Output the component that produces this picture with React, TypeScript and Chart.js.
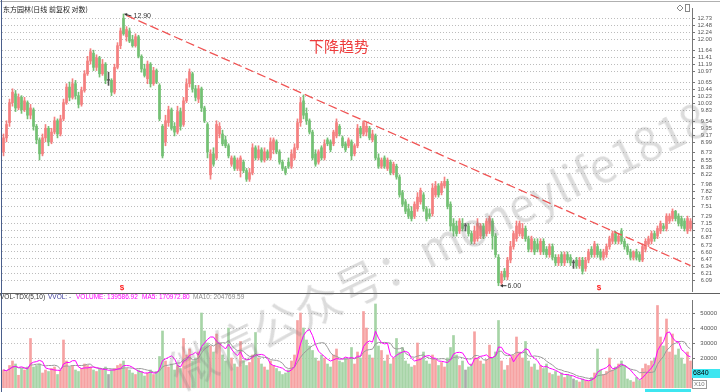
import React, { useEffect, useRef } from "react";
import { Chart, registerables } from "chart.js";
Chart.register(...registerables);

const titleText = "东方园林(日线 前复权 对数)";
const trendLabel = "下降趋势";
const watermark = "微信公众号：moneylife1818";

const opens = [
  8.75, 9.10, 9.50, 10.05, 10.30, 9.90, 10.20, 9.85, 10.05, 9.70,
  9.85, 9.40, 9.05, 8.70, 9.10, 9.35, 9.00, 9.25, 9.55, 9.20,
  9.60, 10.05, 10.50, 10.20, 10.60, 10.25, 10.00, 10.40, 10.90, 11.30,
  11.55, 11.10, 11.40, 10.90, 11.20, 10.70, 10.70, 10.35, 11.10, 11.80,
  12.75, 12.10, 12.30, 12.00, 11.80, 12.10, 11.45, 11.05, 10.75, 11.20,
  10.60, 11.00, 10.55, 9.40, 9.00, 9.50, 9.85, 9.40, 9.25, 9.80,
  9.45, 10.10, 10.60, 10.90, 10.45, 10.15, 10.45, 9.90, 9.45, 8.20,
  8.70, 8.60, 9.20, 9.20, 9.05, 8.90, 8.45, 8.60, 8.35, 8.30,
  8.50, 8.30, 8.10, 8.25, 8.85, 8.60, 8.80, 8.55, 8.75, 8.60,
  8.80, 9.00, 8.75, 8.50, 8.35, 8.50, 8.40, 8.60, 8.85, 9.50,
  10.10, 9.75, 9.55, 9.25, 8.70, 8.50, 8.85, 8.60, 9.05, 9.00,
  8.95, 9.15, 9.40, 9.10, 8.95, 8.90, 9.00, 8.70, 8.90, 9.35,
  9.20, 9.25, 9.35, 9.05, 9.15, 8.60, 8.40, 8.60, 8.35, 8.50,
  8.25, 8.40, 8.15, 7.80, 7.60, 7.45, 7.40, 7.30, 7.45, 7.60,
  7.75, 7.45, 7.35, 7.35, 7.75, 7.95, 7.80, 7.95, 8.05, 7.55,
  7.15, 7.10, 7.00, 7.15, 7.10, 7.10, 6.95, 6.80, 6.85, 6.90,
  7.10, 6.95, 7.00, 7.20, 6.90, 6.50, 6.05, 6.25, 6.15, 6.45,
  6.70, 6.85, 6.95, 6.90, 7.05, 6.85, 6.65, 6.80, 6.75, 6.60,
  6.80, 6.65, 6.55, 6.70, 6.50, 6.40, 6.55, 6.40, 6.55, 6.50,
  6.40, 6.45, 6.35, 6.45, 6.30, 6.45, 6.65, 6.55, 6.70, 6.60,
  6.50, 6.55, 6.70, 6.80, 6.95, 6.80, 7.00, 6.80, 6.70, 6.60,
  6.50, 6.60, 6.55, 6.45, 6.65, 6.75, 6.80, 6.95, 6.90, 7.00,
  7.10, 7.05, 7.20, 7.25, 7.40, 7.30, 7.25, 7.20, 7.00, 7.05,
];
const highs = [
  9.20, 9.55, 10.15, 10.45, 10.40, 10.30, 10.25, 10.20, 10.10, 10.00,
  9.90, 9.45, 9.10, 9.20, 9.45, 9.40, 9.35, 9.65, 9.60, 9.70,
  10.15, 10.60, 10.65, 10.75, 10.70, 10.35, 10.50, 11.00, 11.45, 11.70,
  11.65, 11.50, 11.45, 11.35, 11.25, 10.95, 10.75, 11.20, 11.90, 12.40,
  12.90, 12.45, 12.40, 12.15, 12.20, 12.15, 11.50, 11.20, 11.30, 11.25,
  11.10, 11.05, 10.60, 9.45, 9.70, 9.95, 9.90, 9.50, 9.95, 9.90,
  10.20, 10.75, 11.05, 10.95, 10.55, 10.55, 10.50, 9.95, 9.50, 8.80,
  8.85, 9.55, 9.50, 9.30, 9.15, 8.95, 8.65, 8.65, 8.60, 8.65,
  8.55, 8.35, 8.35, 8.95, 8.90, 8.90, 8.85, 8.85, 8.80, 9.10,
  9.10, 9.05, 8.80, 8.55, 8.40, 8.60, 8.80, 8.95, 9.60, 10.20,
  10.27, 9.90, 9.60, 9.30, 8.80, 8.80, 8.90, 9.05, 9.10, 9.05,
  9.30, 9.60, 9.45, 9.15, 9.00, 9.10, 9.05, 8.95, 9.45, 9.40,
  9.55, 9.50, 9.40, 9.30, 9.20, 8.70, 8.60, 8.65, 8.60, 8.55,
  8.50, 8.45, 8.20, 7.85, 7.65, 7.55, 7.50, 7.60, 7.80, 7.90,
  7.80, 7.50, 7.45, 8.00, 8.05, 8.00, 8.05, 8.15, 8.10, 7.60,
  7.25, 7.20, 7.25, 7.25, 7.15, 7.15, 7.00, 7.10, 7.25, 7.15,
  7.15, 7.25, 7.30, 7.25, 6.95, 6.55, 6.25, 6.30, 6.50, 6.80,
  7.00, 7.20, 7.20, 7.15, 7.10, 6.90, 6.90, 6.85, 6.85, 6.85,
  6.85, 6.70, 6.75, 6.75, 6.55, 6.55, 6.60, 6.60, 6.60, 6.55,
  6.45, 6.50, 6.50, 6.50, 6.50, 6.65, 6.70, 6.80, 6.75, 6.65,
  6.65, 6.75, 6.90, 7.00, 7.00, 6.95, 7.05, 6.85, 6.75, 6.65,
  6.62, 6.65, 6.60, 6.75, 6.85, 6.90, 7.00, 7.00, 7.10, 7.20,
  7.15, 7.35, 7.35, 7.45, 7.42, 7.35, 7.30, 7.25, 7.30, 7.25,
];
const lows = [
  8.65, 9.00, 9.40, 9.95, 9.80, 9.85, 9.75, 9.80, 9.60, 9.60,
  9.30, 8.95, 8.55, 8.65, 9.00, 8.90, 8.95, 9.20, 9.10, 9.15,
  9.55, 10.00, 10.10, 10.15, 10.15, 9.90, 9.95, 10.35, 10.85, 11.20,
  11.00, 11.00, 10.80, 10.85, 10.60, 10.55, 10.25, 10.30, 11.05, 11.70,
  12.15, 11.95, 11.90, 11.75, 11.75, 11.40, 10.95, 10.80, 10.60, 10.50,
  10.55, 10.60, 9.55, 8.60, 8.90, 9.40, 9.30, 9.15, 9.20, 9.30,
  9.40, 10.05, 10.50, 10.35, 10.10, 10.05, 9.80, 9.50, 8.60, 8.10,
  8.40, 8.55, 9.10, 8.90, 8.85, 8.60, 8.40, 8.30, 8.30, 8.15,
  8.25, 8.05, 8.05, 8.20, 8.55, 8.55, 8.50, 8.50, 8.55, 8.55,
  8.70, 8.70, 8.45, 8.30, 8.20, 8.35, 8.35, 8.55, 8.80, 9.40,
  9.60, 9.45, 9.20, 8.55, 8.40, 8.45, 8.55, 8.55, 8.90, 8.75,
  8.90, 9.10, 9.15, 8.85, 8.75, 8.85, 8.55, 8.65, 8.85, 9.10,
  9.15, 9.15, 9.05, 9.00, 8.55, 8.35, 8.35, 8.35, 8.30, 8.20,
  8.20, 8.10, 7.70, 7.50, 7.35, 7.25, 7.20, 7.25, 7.40, 7.55,
  7.40, 7.20, 7.25, 7.30, 7.70, 7.70, 7.75, 7.90, 7.45, 7.00,
  6.90, 6.90, 6.95, 7.00, 7.00, 6.90, 6.75, 6.75, 6.80, 6.85,
  6.85, 6.90, 6.95, 6.65, 6.50, 6.00, 6.02, 6.10, 6.10, 6.40,
  6.65, 6.80, 6.90, 6.85, 6.80, 6.60, 6.60, 6.55, 6.60, 6.55,
  6.55, 6.50, 6.50, 6.45, 6.35, 6.35, 6.35, 6.35, 6.40, 6.35,
  6.30, 6.30, 6.30, 6.20, 6.25, 6.40, 6.50, 6.50, 6.50, 6.45,
  6.45, 6.50, 6.65, 6.75, 6.75, 6.75, 6.75, 6.65, 6.55, 6.45,
  6.45, 6.45, 6.42, 6.42, 6.60, 6.70, 6.75, 6.80, 6.85, 6.95,
  7.00, 7.00, 7.15, 7.20, 7.20, 7.10, 7.05, 7.00, 6.95, 7.00,
];
const closes = [
  9.10, 9.45, 10.05, 10.35, 9.90, 10.20, 9.85, 10.10, 9.70, 9.90,
  9.40, 9.05, 8.70, 9.10, 9.35, 9.00, 9.25, 9.55, 9.20, 9.60,
  10.05, 10.50, 10.20, 10.60, 10.25, 10.00, 10.40, 10.90, 11.30, 11.60,
  11.10, 11.40, 10.90, 11.20, 10.70, 10.70, 10.35, 11.10, 11.80, 12.30,
  12.20, 12.35, 11.95, 11.80, 12.10, 11.45, 11.05, 10.85, 11.20, 10.60,
  11.00, 10.65, 9.60, 8.65, 9.55, 9.85, 9.35, 9.25, 9.80, 9.40,
  10.10, 10.60, 10.95, 10.45, 10.20, 10.45, 9.90, 9.55, 8.75, 8.70,
  8.45, 9.45, 9.40, 8.95, 8.90, 8.65, 8.60, 8.35, 8.55, 8.60,
  8.30, 8.10, 8.25, 8.85, 8.60, 8.80, 8.55, 8.75, 8.60, 9.00,
  9.05, 8.75, 8.50, 8.35, 8.25, 8.40, 8.70, 8.85, 9.50, 10.05,
  9.70, 9.55, 9.25, 8.60, 8.45, 8.75, 8.60, 8.95, 8.95, 8.80,
  9.25, 9.50, 9.20, 8.90, 8.80, 9.05, 8.65, 8.90, 9.35, 9.20,
  9.50, 9.40, 9.10, 9.20, 8.60, 8.40, 8.55, 8.40, 8.55, 8.25,
  8.45, 8.15, 7.75, 7.55, 7.40, 7.30, 7.25, 7.55, 7.70, 7.85,
  7.45, 7.25, 7.30, 7.90, 7.95, 7.75, 8.00, 8.05, 7.50, 7.10,
  7.00, 6.95, 7.20, 7.05, 7.10, 6.95, 6.80, 7.00, 7.15, 7.10,
  6.90, 7.20, 7.25, 6.90, 6.55, 6.05, 6.20, 6.15, 6.45, 6.70,
  6.95, 7.10, 7.15, 7.05, 6.85, 6.65, 6.85, 6.60, 6.65, 6.80,
  6.60, 6.55, 6.70, 6.50, 6.40, 6.50, 6.40, 6.55, 6.45, 6.40,
  6.40, 6.35, 6.45, 6.25, 6.45, 6.60, 6.55, 6.75, 6.55, 6.50,
  6.60, 6.70, 6.85, 6.95, 6.80, 6.90, 6.80, 6.70, 6.60, 6.50,
  6.60, 6.50, 6.45, 6.70, 6.80, 6.85, 6.95, 6.85, 7.05, 7.15,
  7.05, 7.30, 7.30, 7.40, 7.25, 7.15, 7.10, 7.05, 7.25, 7.20,
];
const volumes = [
  12000, 11000, 15000, 18000, 16000, 8500, 13000, 12000, 14000, 33000,
  14000, 15000, 16000, 10000, 12000, 11000, 13000, 14000, 9000, 12000,
  32000, 18000, 14000, 15000, 12000, 11000, 13000, 16000, 15000, 14000,
  12000, 11000, 13000, 12000, 14000, 9000, 12000, 13000, 15000, 16000,
  18000, 13000, 12000, 10000, 9000, 12000, 11000, 8000, 10000, 12000,
  9000, 11000, 21000, 38000, 18000, 14000, 16000, 12000, 15000, 13000,
  33000, 22000, 26000, 18000, 20000, 24000, 50000, 38000, 30000, 28000,
  24000, 36000, 30000, 22000, 18000, 40000, 20000, 16000, 14000, 31000,
  18000, 15000, 17000, 22000, 37000, 20000, 16000, 14000, 12000, 18000,
  15000, 13000, 11000, 9000, 10000, 12000, 18000, 22000, 45000, 50000,
  40000, 32000, 28000, 25000, 20000, 18000, 22000, 20000, 16000, 14000,
  22000, 26000, 18000, 17000, 20000, 19000, 27000, 16000, 24000, 20000,
  51000, 40000, 22000, 20000, 56000, 28000, 25000, 18000, 22000, 16000,
  20000, 33000, 24000, 27000, 18000, 16000, 14000, 15000, 30000, 20000,
  24000, 18000, 16000, 22000, 19000, 15000, 17000, 14000, 20000, 27000,
  35000, 22000, 15000, 18000, 12000, 14000, 16000, 37500, 20000, 18000,
  16000, 19000, 28600, 20000, 24000, 45000, 18000, 12000, 15000, 20000,
  22000, 34000, 24000, 20000, 31000, 18000, 14000, 16000, 12000, 15000,
  13000, 16000, 10000, 9000, 11000, 8000, 10000, 7000, 9000, 8000,
  6000, 5000, 4000, 6000, 5000, 4500, 7000, 10000, 26000, 12000,
  9000, 11000, 20000, 12000, 14000, 16000, 18000, 15000, 6000, 5000,
  4000, 7000, 5000, 13000, 16000, 15000, 18000, 20000, 55000, 34000,
  28000, 46000, 24000, 36000, 22000, 26000, 20000, 16000, 24000, 18000,
];

const priceTicks = [
  12.73, 12.48, 12.24, 12.0, 11.64, 11.41, 11.19, 10.97, 10.65, 10.44, 10.23, 10.03,
  9.83, 9.54, 9.35, 9.17, 8.99, 8.73, 8.55, 8.38, 8.22, 7.98, 7.82, 7.67, 7.51,
  7.29, 7.15, 7.01, 6.87, 6.73, 6.6, 6.47, 6.34, 6.21, 6.09,
];
const volTicks = [20000, 30000, 40000, 50000];
const trendIdx = [41, 229];
const trendPrice = [12.85, 6.35];
const highMarkIdx = 40;
const highMarkPrice = 12.9;
const lowMarkIdx = 165;
const lowMarkPrice = 6.0;
const signalIdx = [39.5, 198.5];
const volHeader = [
  { t: "VOL-TDX(5,10)", c: "#333333", x: 0 },
  { t: "VVOL: -", c: "#3a3a9a", x: 48 },
  { t: "VOLUME: 139586.92", c: "#ff00ff", x: 76 },
  { t: "MA5: 170972.80", c: "#ff00ff", x: 142 },
  { t: "MA10: 204769.59", c: "#8c8c8c", x: 193 },
];

const labels = closes.map((_, i) => String(i));
const dirOf = (i: number) => (closes[i] > opens[i] ? 1 : closes[i] < opens[i] ? -1 : 0);
const candleColors = closes.map((_, i) => (dirOf(i) > 0 ? "#f48080" : dirOf(i) < 0 ? "#74c074" : "#555555"));
const volColors = closes.map((_, i) => (dirOf(i) > 0 ? "#f6a2a2" : dirOf(i) < 0 ? "#a6d4a6" : "#aaaaaa"));
const movingAvg = (n: number) =>
  volumes.map((_, i) => {
    const s = volumes.slice(Math.max(0, i - n + 1), i + 1);
    return s.reduce((a, b) => a + b, 0) / s.length;
  });
const trendData = labels.map((_, i) => {
  const k = trendIdx.indexOf(i);
  return k >= 0 ? trendPrice[k] : null;
});

const MONO = "'Liberation Sans', Arial, sans-serif";
const CJK = "'Noto Sans CJK SC', sans-serif";

function arrowLine(ctx: CanvasRenderingContext2D, x1: number, y1: number, x2: number, y2: number) {
  ctx.beginPath();
  ctx.moveTo(x1, y1);
  ctx.lineTo(x2, y2);
  ctx.stroke();
  const a = Math.atan2(y2 - y1, x2 - x1);
  ctx.beginPath();
  ctx.moveTo(x2, y2);
  ctx.lineTo(x2 - 3 * Math.cos(a - 0.6), y2 - 3 * Math.sin(a - 0.6));
  ctx.lineTo(x2 - 3 * Math.cos(a + 0.6), y2 - 3 * Math.sin(a + 0.6));
  ctx.closePath();
  ctx.fill();
}

const mainPlugin = {
  id: "mainDecor",
  afterDraw(chart: any) {
    const ctx = chart.ctx as CanvasRenderingContext2D;
    const x = chart.scales.x;
    const y = chart.scales.y;
    const area = chart.chartArea;
    ctx.save();
    ctx.lineWidth = 1;
    ctx.strokeStyle = "#b0b0b0";
    ctx.beginPath();
    ctx.moveTo(0, 1.5);
    ctx.lineTo(720, 1.5);
    ctx.stroke();
    ctx.strokeStyle = "#4a5f8c";
    ctx.beginPath();
    ctx.moveTo(1.5, 0);
    ctx.lineTo(1.5, 292);
    ctx.stroke();
    ctx.fillStyle = "#222";
    ctx.font = `7px ${CJK}`;
    ctx.textBaseline = "middle";
    ctx.textAlign = "left";
    ctx.fillText(titleText, 3, 9);
    ctx.fillStyle = "#ee3b3b";
    ctx.font = `15px ${CJK}`;
    ctx.textAlign = "center";
    ctx.fillText(trendLabel, 339, 46);
    ctx.strokeStyle = "#333";
    ctx.fillStyle = "#333";
    const hx = x.getPixelForValue(highMarkIdx);
    const hy = y.getPixelForValue(highMarkPrice);
    arrowLine(ctx, hx + 8, hy + 2, hx + 1, hy);
    ctx.font = `7px ${MONO}`;
    ctx.textAlign = "left";
    ctx.fillText(highMarkPrice.toFixed(2), hx + 10, hy + 2);
    const lx = x.getPixelForValue(lowMarkIdx);
    const ly = y.getPixelForValue(lowMarkPrice);
    arrowLine(ctx, lx + 8, ly, lx + 2, ly);
    ctx.fillText(lowMarkPrice.toFixed(2), lx + 9, ly);
    ctx.fillStyle = "#ff2020";
    ctx.font = `bold 8px ${MONO}`;
    ctx.textAlign = "center";
    signalIdx.forEach((i) => ctx.fillText("$", x.getPixelForValue(i), area.bottom - 4));
    ctx.strokeStyle = "#888";
    ctx.beginPath();
    ctx.moveTo(680, 5);
    ctx.lineTo(683, 8);
    ctx.lineTo(680, 11);
    ctx.lineTo(677, 8);
    ctx.closePath();
    ctx.stroke();
    ctx.strokeRect(685.5, 4.5, 4, 7);
    ctx.restore();
  },
};

const volPlugin = {
  id: "volDecor",
  afterDraw(chart: any) {
    const ctx = chart.ctx as CanvasRenderingContext2D;
    ctx.save();
    ctx.lineWidth = 1;
    ctx.strokeStyle = "#606060";
    ctx.beginPath();
    ctx.moveTo(0, 1.5);
    ctx.lineTo(720, 1.5);
    ctx.stroke();
    ctx.strokeStyle = "#4a5f8c";
    ctx.beginPath();
    ctx.moveTo(1.5, 0);
    ctx.lineTo(1.5, 100);
    ctx.stroke();
    ctx.font = `6.5px ${MONO}`;
    ctx.textBaseline = "middle";
    ctx.textAlign = "left";
    volHeader.forEach((h) => {
      ctx.fillStyle = h.c;
      ctx.fillText(h.t, h.x, 4.8);
    });
    ctx.fillStyle = "#3ee6f0";
    ctx.fillRect(692, 77, 28, 9);
    ctx.fillStyle = "#000";
    ctx.font = `7px ${MONO}`;
    ctx.fillText("6840", 693, 81.5);
    ctx.strokeStyle = "#999";
    ctx.strokeRect(692.5, 88.5, 14, 8);
    ctx.fillStyle = "#777";
    ctx.font = `6px ${MONO}`;
    ctx.fillText("X10", 694, 92.8);
    ctx.fillStyle = "#3ee6f0";
    ctx.fillRect(645, 97, 46, 3);
    ctx.restore();
  },
};

export default function App() {
  const refA = useRef<HTMLCanvasElement>(null);
  const refB = useRef<HTMLCanvasElement>(null);

  useEffect(() => {
    const a = new Chart(refA.current as HTMLCanvasElement, {
      type: "bar",
      data: {
        labels,
        datasets: [
          {
            type: "line",
            data: trendData as any,
            borderColor: "#f05454",
            borderWidth: 1.3,
            borderDash: [9, 4],
            pointRadius: 0,
            spanGaps: true,
            order: 0,
          } as any,
          {
            type: "bar",
            data: opens.map((o, i) => [o, closes[i]]) as any,
            backgroundColor: candleColors,
            barThickness: 2,
            grouped: false,
            minBarLength: 1,
            order: 1,
          } as any,
          {
            type: "bar",
            data: lows.map((l, i) => [l, highs[i]]) as any,
            backgroundColor: candleColors,
            barThickness: 1,
            grouped: false,
            order: 2,
          } as any,
        ],
      },
      options: {
        animation: false,
        responsive: false,
        maintainAspectRatio: false,
        events: [],
        layout: { padding: { left: 2, right: 8, top: 8, bottom: 0 } },
        plugins: { legend: { display: false }, tooltip: { enabled: false } },
        scales: {
          x: { display: false, offset: true, grid: { display: false } },
          y: {
            type: "logarithmic",
            position: "right",
            min: 5.895,
            max: 13.12,
            afterBuildTicks: (s: any) => {
              s.ticks = priceTicks.map((v) => ({ value: v }));
            },
            afterFit: (s: any) => {
              s.width = 20;
              s.paddingTop = 0;
              s.paddingBottom = 0;
            },
            ticks: {
              autoSkip: false,
              callback: (v: any) => Number(v).toFixed(2),
              font: { family: MONO, size: 5.8 },
              color: "#555",
              padding: 2,
              crossAlign: "far",
            },
            grid: { color: "#bcbcbc", tickColor: "#777", tickLength: 3, lineWidth: 1 },
            border: { display: true, color: "#777", dash: [1, 2] },
          } as any,
        },
      },
      plugins: [mainPlugin],
    });

    const b = new Chart(refB.current as HTMLCanvasElement, {
      type: "bar",
      data: {
        labels,
        datasets: [
          {
            type: "line",
            data: movingAvg(5),
            borderColor: "#ff00ff",
            borderWidth: 1,
            pointRadius: 0,
            order: 0,
          } as any,
          {
            type: "line",
            data: movingAvg(10),
            borderColor: "#9a9a9a",
            borderWidth: 1,
            pointRadius: 0,
            order: 1,
          } as any,
          {
            type: "bar",
            data: volumes,
            backgroundColor: volColors,
            barThickness: 2,
            grouped: false,
            order: 2,
          } as any,
        ],
      },
      options: {
        animation: false,
        responsive: false,
        maintainAspectRatio: false,
        events: [],
        layout: { padding: { left: 2, right: 3, top: 8, bottom: 4 } },
        plugins: { legend: { display: false }, tooltip: { enabled: false } },
        scales: {
          x: { display: false, offset: true, grid: { display: false } },
          y: {
            position: "right",
            min: 0,
            max: 58667,
            afterBuildTicks: (s: any) => {
              s.ticks = volTicks.map((v) => ({ value: v }));
            },
            afterFit: (s: any) => {
              s.width = 25;
              s.paddingTop = 0;
              s.paddingBottom = 0;
            },
            ticks: {
              autoSkip: false,
              callback: (v: any) => String(v),
              font: { family: MONO, size: 6 },
              color: "#555",
              padding: 2,
              crossAlign: "far",
            },
            grid: { color: "#bcbcbc", tickColor: "#777", tickLength: 3, lineWidth: 1 },
            border: { display: true, color: "#777", dash: [1, 2] },
          } as any,
        },
      },
      plugins: [volPlugin],
    });

    return () => {
      a.destroy();
      b.destroy();
    };
  }, []);

  return (
    <div
      style={{
        position: "absolute",
        left: 0,
        top: 0,
        width: 720,
        height: 392,
        overflow: "hidden",
        background: "#ffffff",
      }}
    >
      <canvas ref={refA} width={720} height={292} style={{ position: "absolute", left: 0, top: 0, width: 720, height: 292 }} />
      <canvas ref={refB} width={720} height={100} style={{ position: "absolute", left: 0, top: 292, width: 720, height: 100 }} />
      <div
        style={{
          position: "absolute",
          left: 182,
          top: 346,
          fontSize: 46,
          lineHeight: "48px",
          fontFamily: CJK,
          color: "rgba(120,120,120,0.26)",
          whiteSpace: "nowrap",
          transform: "rotate(-26deg)",
          transformOrigin: "0 100%",
          pointerEvents: "none",
        }}
      >
        {watermark}
      </div>
    </div>
  );
}
